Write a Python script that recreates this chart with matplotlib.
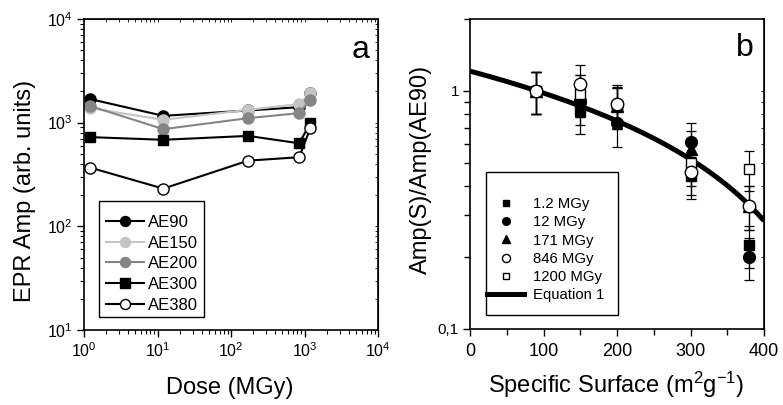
import matplotlib
matplotlib.use('Agg')
import matplotlib.pyplot as plt
import numpy as np
from matplotlib.lines import Line2D
from matplotlib.patches import Rectangle
from matplotlib.ticker import LogLocator, NullFormatter, FixedLocator, FixedFormatter, MultipleLocator

plt.rcParams['font.family'] = ['Liberation Sans', 'DejaVu Sans']
plt.rcParams['mathtext.fontset'] = 'custom'
plt.rcParams['mathtext.rm'] = 'Liberation Sans'
plt.rcParams['mathtext.it'] = 'Liberation Sans:italic'
plt.rcParams['mathtext.bf'] = 'Liberation Sans:bold'

# ---------------- Panel a data ----------------
doses = [1.2, 12, 171, 846, 1200]
ae90 = [1690, 1163, 1310, 1410, 1950]
ae150 = [1380, 1065, 1330, 1510, 1930]
ae200 = [1450, 865, 1105, 1235, 1660]
ae300 = [725, 683, 745, 632, 990]
ae380 = [369, 231, 430, 464, 885]
series_a_labels = ['AE90', 'AE150', 'AE200', 'AE300', 'AE380']

# ---------------- Panel b data ----------------
surface = [90, 150, 200, 300, 380]
r_1p2 = [1.0, 0.82, 0.86, 0.44, 0.225]
e_1p2 = [0.20, 0.16, 0.17, 0.09, 0.045]
r_12 = [1.0, 0.90, 0.73, 0.61, 0.20]
e_12 = [0.20, 0.18, 0.15, 0.12, 0.04]
r_171 = [1.0, 0.97, 0.86, 0.57, 0.33]
e_171 = [0.20, 0.19, 0.17, 0.11, 0.07]
r_846 = [1.0, 1.07, 0.88, 0.455, 0.33]
e_846 = [0.20, 0.21, 0.18, 0.09, 0.07]
r_1200 = [1.0, 0.97, 0.87, 0.50, 0.47]
e_1200 = [0.20, 0.19, 0.17, 0.10, 0.09]
series_b_labels = ['1.2 MGy', '12 MGy', '171 MGy', '846 MGy', '1200 MGy']
eq_label = 'Equation 1'
# Equation 1 fit parameters: y = A * (1 - S / S0)
eq_A = 1.21
eq_S0 = 523.0

fig = plt.figure(figsize=(7.83, 4.05), dpi=100)
ax1 = fig.add_axes([0.1073, 0.1852, 0.3755, 0.768])
ax2 = fig.add_axes([0.6003, 0.1877, 0.3755, 0.765])

# ---------------- Panel a ----------------
styles_a = [
    dict(color='black', marker='o', mfc='black', mec='black', ms=8),
    dict(color='#c4c4c4', marker='o', mfc='#c4c4c4', mec='#c4c4c4', ms=8),
    dict(color='#858585', marker='o', mfc='#858585', mec='#858585', ms=8),
    dict(color='black', marker='s', mfc='black', mec='black', ms=7.5),
    dict(color='black', marker='o', mfc='white', mec='black', ms=8),
]
for vals, lab, st in zip([ae90, ae150, ae200, ae300, ae380], series_a_labels, styles_a):
    ax1.plot(doses, vals, lw=1.5, mew=1.0, label=lab, **st)

ax1.set_xscale('log')
ax1.set_yscale('log')
ax1.set_xlim(1, 1e4)
ax1.set_ylim(10, 1e4)
ax1.xaxis.set_major_locator(LogLocator(base=10, numticks=10))
ax1.xaxis.set_minor_locator(LogLocator(base=10, subs=np.arange(2, 10), numticks=20))
ax1.yaxis.set_major_locator(LogLocator(base=10, numticks=10))
ax1.yaxis.set_minor_locator(LogLocator(base=10, subs=np.arange(2, 10), numticks=20))
ax1.xaxis.set_minor_formatter(NullFormatter())
ax1.yaxis.set_minor_formatter(NullFormatter())
ax1.tick_params(which='major', direction='out', length=5, width=1.0, labelsize=11.5, pad=3)
ax1.tick_params(which='minor', direction='out', length=3, width=0.8)
for sp in ax1.spines.values():
    sp.set_linewidth(1.2)

sx1 = ax1.secondary_xaxis('top')
sx1.tick_params(which='both', direction='in', labeltop=False, length=2, width=0.6)
sx1.xaxis.set_minor_locator(LogLocator(base=10, subs=np.arange(2, 10), numticks=20))
sy1 = ax1.secondary_yaxis('right')
sy1.tick_params(which='both', direction='in', labelright=False, length=2, width=0.6)
sy1.yaxis.set_minor_locator(LogLocator(base=10, subs=np.arange(2, 10), numticks=20))

ax1.set_xlabel('Dose (MGy)', fontsize=17)
ax1.set_ylabel('EPR Amp (arb. units)', fontsize=17)
ax1.xaxis.set_label_coords(0.497, -0.15)
ax1.yaxis.set_label_coords(-0.165, 0.447)
ax1.text(0.97, 0.875, 'a', transform=ax1.transAxes, ha='right', va='baseline', fontsize=23)

ax1.add_patch(Rectangle((0.051, 0.042), 0.357, 0.373, transform=ax1.transAxes,
                        facecolor='white', edgecolor='black', lw=1.0, zorder=4))
leg1 = ax1.legend(loc='upper left', bbox_to_anchor=(0.075, 0.370), frameon=False,
                  fontsize=12, handlelength=2.3, handletextpad=0.2, labelspacing=0.34,
                  borderpad=0, borderaxespad=0, markerscale=0.9)
leg1.set_zorder(5)

# ---------------- Panel b ----------------
styles_b = [
    dict(marker='s', mfc='black', mec='black', ms=7.5),
    dict(marker='o', mfc='black', mec='black', ms=8.5),
    dict(marker='^', mfc='black', mec='black', ms=8.5),
    dict(marker='o', mfc='white', mec='black', ms=9),
    dict(marker='s', mfc='white', mec='black', ms=7.5),
]
data_b = [(r_1p2, e_1p2), (r_12, e_12), (r_171, e_171), (r_846, e_846), (r_1200, e_1200)]
order = [0, 1, 2, 4, 3]
for k, i in enumerate(order):
    vals, errs = data_b[i]
    st = styles_b[i]
    ax2.errorbar(surface, vals, yerr=errs, fmt='none', ecolor='black', elinewidth=0.9,
                 capsize=3.5, capthick=0.9, zorder=2 + k * 0.1)
    ax2.plot(surface, vals, ls='none', mew=1.0, zorder=3 + k * 0.1, **st)

s_curve = np.linspace(0, 400, 200)
ax2.plot(s_curve, eq_A * (1 - s_curve / eq_S0), color='black', lw=3.6, zorder=2.5,
         solid_capstyle='butt')

ax2.set_yscale('log')
ax2.set_xlim(0, 400)
ax2.set_ylim(0.1, 2.0)
ax2.xaxis.set_major_locator(MultipleLocator(100))
ax2.xaxis.set_minor_locator(MultipleLocator(50))
ax2.yaxis.set_major_locator(FixedLocator([0.1, 1]))
ax2.yaxis.set_major_formatter(FixedFormatter(['0,1', '1']))
ax2.yaxis.set_minor_locator(FixedLocator([0.2, 0.3, 0.4, 0.5, 0.6, 0.7, 0.8, 0.9, 2.0]))
ax2.yaxis.set_minor_formatter(NullFormatter())
ax2.tick_params(axis='x', which='major', direction='out', length=5, width=1.0, labelsize=13, pad=5)
ax2.tick_params(axis='x', which='minor', direction='out', length=4, width=1.0)
ax2.tick_params(axis='y', which='major', direction='out', length=5, width=1.0, labelsize=11, pad=3)
ax2.tick_params(axis='y', which='minor', direction='out', length=4, width=1.0)
for sp in ax2.spines.values():
    sp.set_linewidth(1.2)

sy2 = ax2.secondary_yaxis('right')
sy2.yaxis.set_major_locator(FixedLocator([0.1, 1]))
sy2.yaxis.set_minor_locator(FixedLocator([0.2, 0.3, 0.4, 0.5, 0.6, 0.7, 0.8, 0.9, 2.0]))
sy2.tick_params(which='both', direction='in', labelright=False, length=2, width=0.6)

ax2.set_xlabel('Specific Surface (m$^2$g$^{-1}$)', fontsize=17)
ax2.set_ylabel('Amp(S)/Amp(AE90)', fontsize=17)
ax2.xaxis.set_label_coords(0.497, -0.133)
ax2.yaxis.set_label_coords(-0.128, 0.516)
ax2.text(0.966, 0.88, 'b', transform=ax2.transAxes, ha='right', va='baseline', fontsize=23)

ax2.add_patch(Rectangle((0.054, 0.045), 0.449, 0.461, transform=ax2.transAxes,
                        facecolor='white', edgecolor='black', lw=1.0, zorder=4))
handles_b = []
for lab, st in zip(series_b_labels, styles_b):
    st2 = dict(st)
    st2['ms'] = st['ms'] * 0.65
    handles_b.append(Line2D([], [], ls='none', mew=1.0, label=lab, **st2))
handles_b.append(Line2D([], [], color='black', lw=3.6, label=eq_label))
leg2 = ax2.legend(handles=handles_b, loc='upper left', bbox_to_anchor=(0.058, 0.425),
                  frameon=False, fontsize=10.7, handlelength=2.5, handletextpad=0.6,
                  labelspacing=0.28, borderpad=0, borderaxespad=0)
leg2.set_zorder(5)

fig.savefig('out.png', dpi=100)
